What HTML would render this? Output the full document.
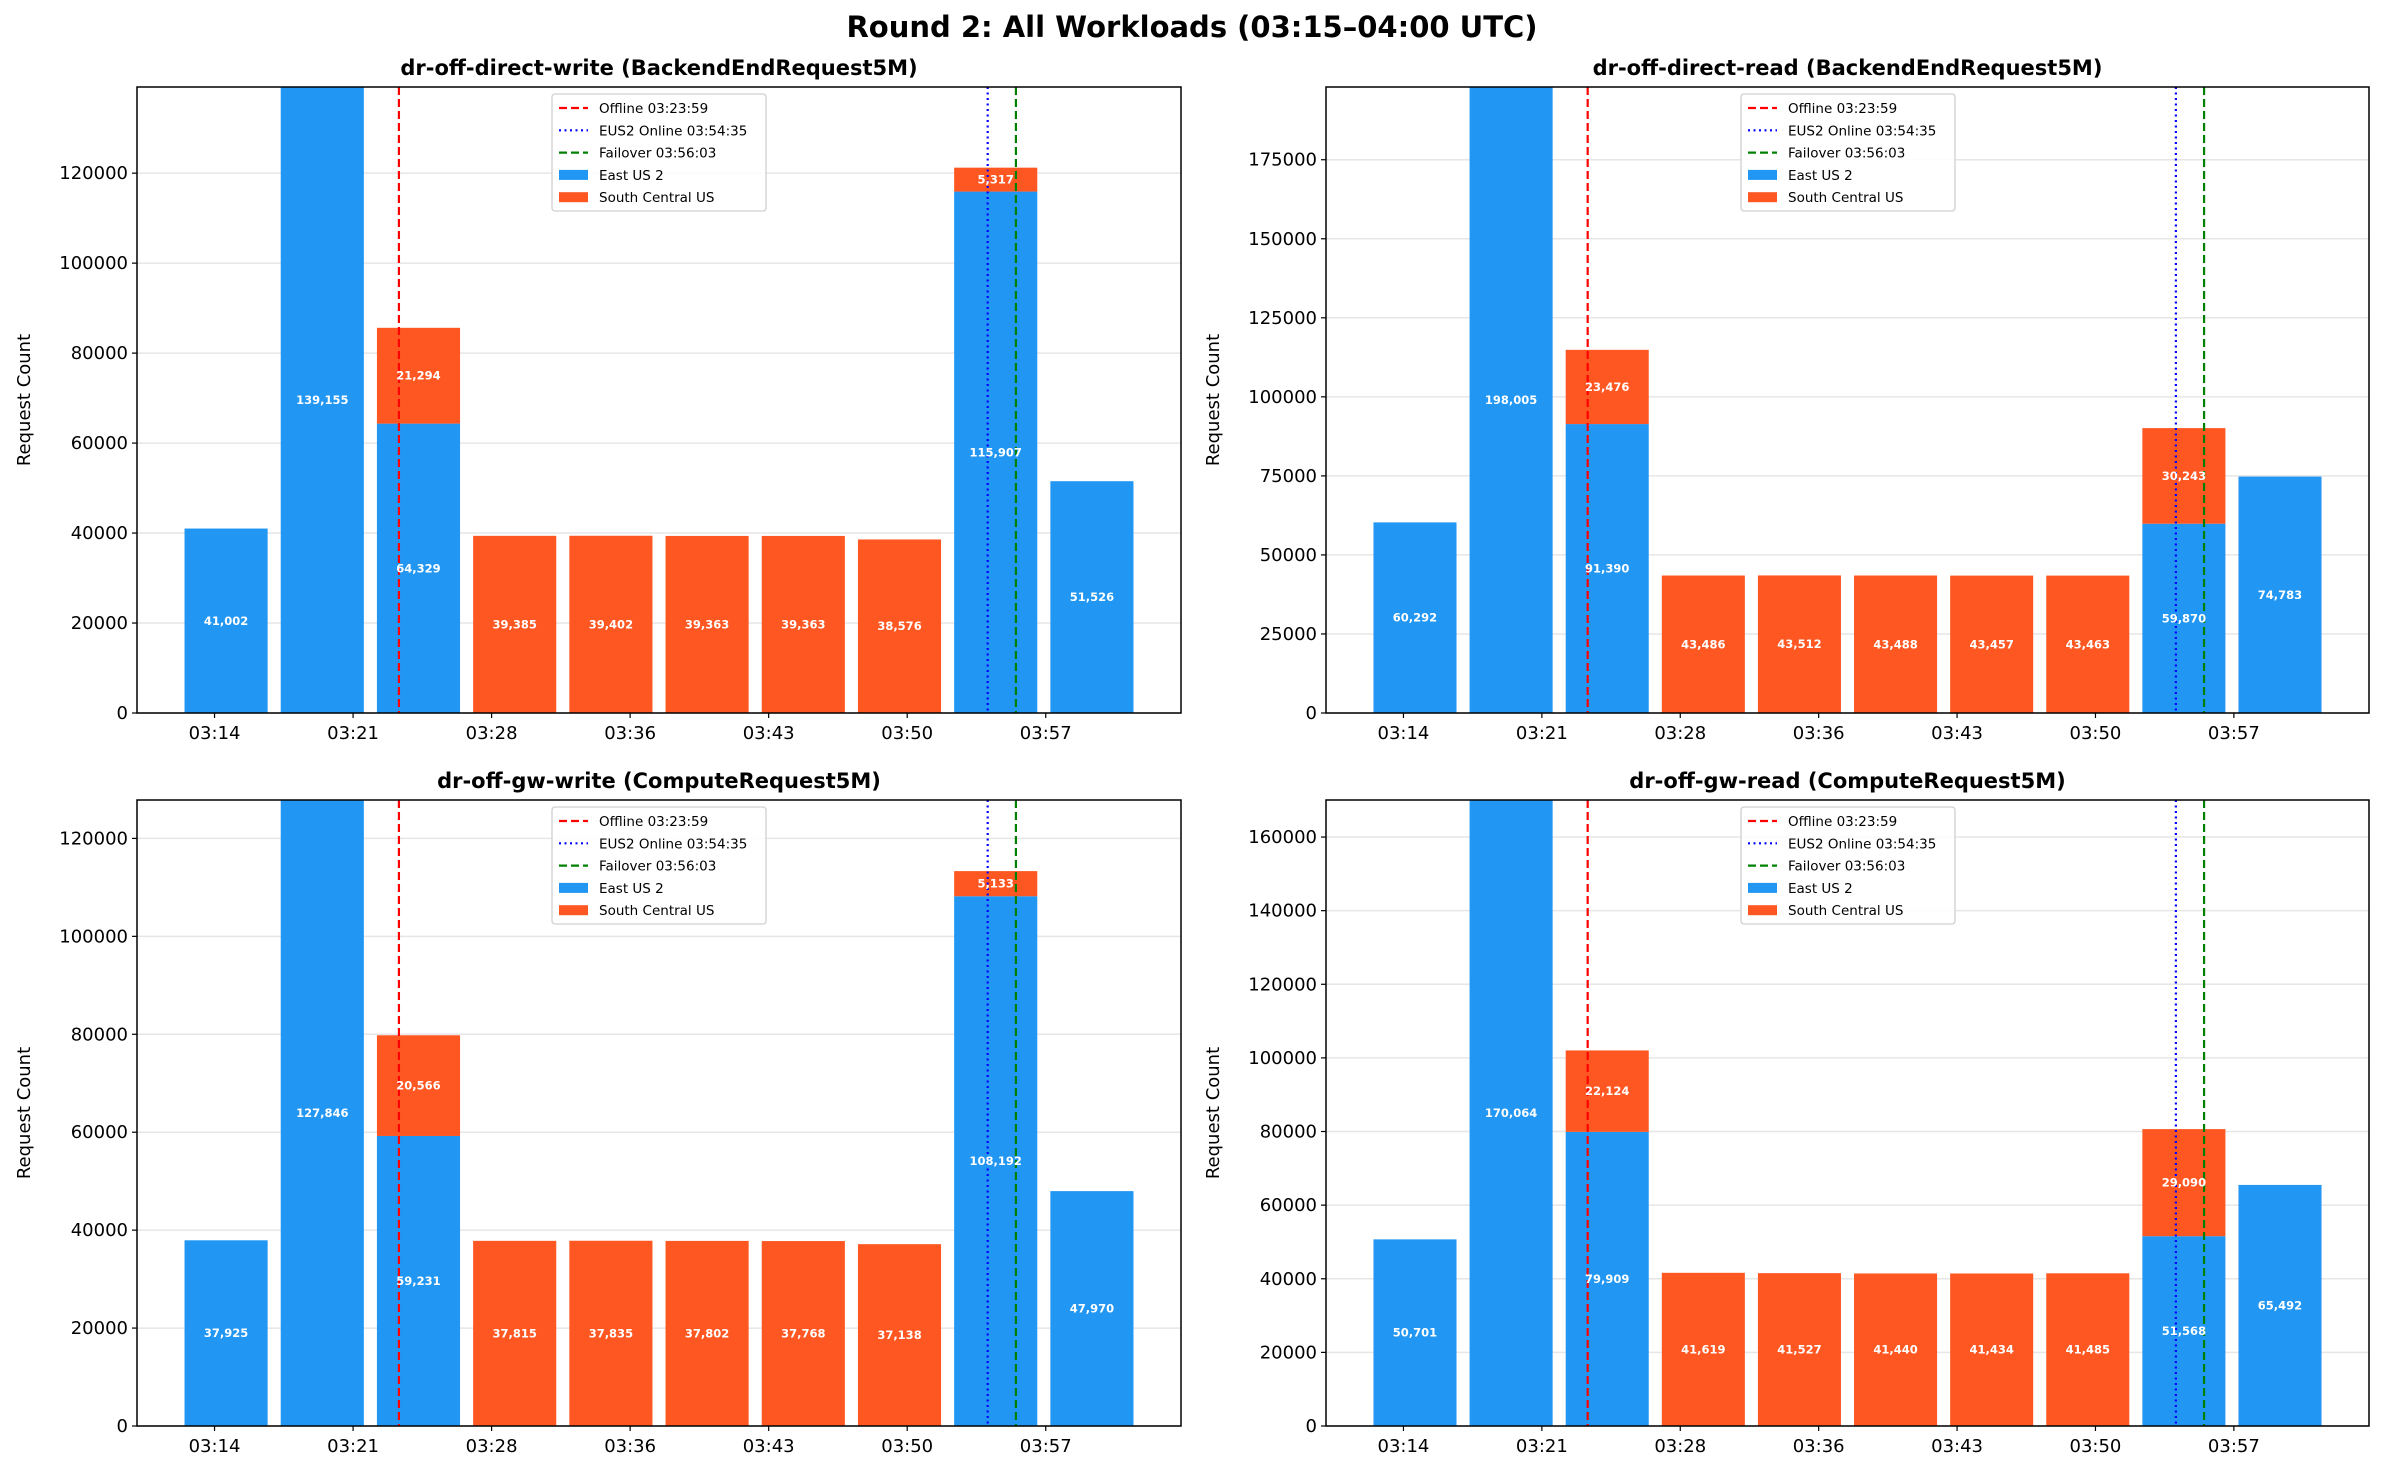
<!DOCTYPE html>
<html><head><meta charset="utf-8"><style>
html,body{margin:0;padding:0;background:#fff;}
svg{display:block;font-family:"DejaVu Sans","Liberation Sans",sans-serif;}
</style></head><body>
<svg id="fig" width="2384" height="1476" viewBox="0 0 2384 1476" xmlns="http://www.w3.org/2000/svg">
<rect width="2384" height="1476" fill="#fff"/>
<text x="1192" y="37" text-anchor="middle" font-size="29" font-weight="bold">Round 2: All Workloads (03:15–04:00 UTC)</text>
</svg>
<script>
// bar times (minutes after 03:00)
const barTimes = [15,20,25,30,35,40,45,50,55,60];
const tickTimes = [14.4,21.6,28.8,36,43.2,50.4,57.6];
const tickLabels = ["03:14","03:21","03:28","03:36","03:43","03:50","03:57"];
const eventTimes = [23.983,54.583,56.05];
const eventLabels = ["Offline 03:23:59","EUS2 Online 03:54:35","Failover 03:56:03"];

const dwTitle = "dr-off-direct-write (BackendEndRequest5M)";
const dwEast = [41002,139155,64329,0,0,0,0,0,115907,51526];
const dwSouth = [0,0,21294,39385,39402,39363,39363,38576,5317,0];
const dwTicks = [0,20000,40000,60000,80000,100000,120000];

const drTitle = "dr-off-direct-read (BackendEndRequest5M)";
const drEast = [60292,198005,91390,0,0,0,0,0,59870,74783];
const drSouth = [0,0,23476,43486,43512,43488,43457,43463,30243,0];
const drTicks = [0,25000,50000,75000,100000,125000,150000,175000];

const gwTitle = "dr-off-gw-write (ComputeRequest5M)";
const gwEast = [37925,127846,59231,0,0,0,0,0,108192,47970];
const gwSouth = [0,0,20566,37815,37835,37802,37768,37138,5133,0];
const gwTicks = [0,20000,40000,60000,80000,100000,120000];

const grTitle = "dr-off-gw-read (ComputeRequest5M)";
const grEast = [50701,170064,79909,0,0,0,0,0,51568,65492];
const grSouth = [0,0,22124,41619,41527,41440,41434,41485,29090,0];
const grTicks = [0,20000,40000,60000,80000,100000,120000,140000,160000];

const NS="http://www.w3.org/2000/svg";
const svg=document.getElementById('fig');
function mk(tag,attrs,parent){const e=document.createElementNS(NS,tag);for(const k in attrs)e.setAttribute(k,attrs[k]);(parent||svg).appendChild(e);return e;}
const BLUE="#2196F3",ORANGE="#FF5722";
const fmt=v=>v.toLocaleString('en-US');

function panel(L,T,R,B,title,east,south,yticks,slug){
  const g=mk('g',{});
  
  
  const x0=10.37,x1=64.63;
  const totals=east.map((e,i)=>e+south[i]);
  const ymax=Math.max(...totals);
  const X=t=>L+(t-x0)/(x1-x0)*(R-L);
  const Y=v=>B-v/ymax*(B-T);
  yticks.forEach(v=>{const l=mk('line',{x1:L,x2:R,y1:Y(v),y2:Y(v),stroke:'#e6e6e6','stroke-width':1.5},g);
    });
  const bw=4.32;
  barTimes.forEach((t,i)=>{
    const xl=X(t-bw/2),w=X(t+bw/2)-xl;
    if(east[i]>0){const r=mk('rect',{x:xl,y:Y(east[i]),width:w,height:B-Y(east[i]),fill:BLUE},g);
      }
    if(south[i]>0){const r=mk('rect',{x:xl,y:Y(east[i]+south[i]),width:w,height:Y(east[i])-Y(east[i]+south[i]),fill:ORANGE},g);
      }
  });
  const ecol=['#ff0000','#0000ff','#008000'],edash=['8,4','2,3.5','8,4'];
  eventTimes.forEach((t,i)=>{const l=mk('line',{x1:X(t),x2:X(t),y1:T,y2:B,stroke:ecol[i],'stroke-width':2.2,'stroke-dasharray':edash[i]},g);
    });
  barTimes.forEach((t,i)=>{
    if(east[i]>0){const tx=mk('text',{x:X(t),y:Y(east[i]/2)+4,'text-anchor':'middle','font-size':11.5,'font-weight':'bold',fill:'#fff'},g);tx.textContent=fmt(east[i]);
      }
    if(south[i]>0){const tx=mk('text',{x:X(t),y:Y(east[i]+south[i]/2)+4,'text-anchor':'middle','font-size':11.5,'font-weight':'bold',fill:'#fff'},g);tx.textContent=fmt(south[i]);
      }
  });
  const fr=mk('rect',{x:L,y:T,width:R-L,height:B-T,fill:'none',stroke:'#000','stroke-width':1.5},g);
  
  yticks.forEach(v=>{mk('line',{x1:L-5,x2:L,y1:Y(v),y2:Y(v),stroke:'#000','stroke-width':1.2},g);
    const tx=mk('text',{x:L-9,y:Y(v)+6,'text-anchor':'end','font-size':18},g);tx.textContent=v;
    });
  tickTimes.forEach((t,i)=>{mk('line',{x1:X(t),x2:X(t),y1:B,y2:B+5,stroke:'#000','stroke-width':1.2},g);
    const tx=mk('text',{x:X(t),y:B+26,'text-anchor':'middle','font-size':18},g);tx.textContent=tickLabels[i];
    });
  const yl=mk('text',{x:0,y:0,'text-anchor':'middle','font-size':18,transform:`translate(${L-107},${(T+B)/2}) rotate(-90)`},g);
  yl.textContent='Request Count';
  const tt=mk('text',{x:(L+R)/2,y:T-12,'text-anchor':'middle','font-size':21,'font-weight':'bold'},g);
  tt.textContent=title;
  const lg=mk('g',{},g);
  const lx=L+415,ly=T+7;
  mk('rect',{x:lx,y:ly,width:214,height:117,rx:3,fill:'#fff','fill-opacity':0.85,stroke:'#d0d0d0','stroke-width':1.3},lg);
  const rows=[...eventLabels,'East US 2','South Central US'];
  rows.forEach((s,i)=>{const cy=ly+14+i*22.3;
    if(i<3){mk('line',{x1:lx+7,x2:lx+36,y1:cy,y2:cy,stroke:ecol[i],'stroke-width':2.2,'stroke-dasharray':edash[i]},lg);}
    else{mk('rect',{x:lx+7,y:cy-5,width:29,height:10,fill:i===3?BLUE:ORANGE},lg);}
    const tx=mk('text',{x:lx+47,y:cy+5,'font-size':13.5},lg);tx.textContent=s;
    
  });
}
panel(137,87,1181,713,dwTitle,dwEast,dwSouth,dwTicks,'direct-write');
panel(1326,87,2369,713,drTitle,drEast,drSouth,drTicks,'direct-read');
panel(137,800,1181,1426,gwTitle,gwEast,gwSouth,gwTicks,'gw-write');
panel(1326,800,2369,1426,grTitle,grEast,grSouth,grTicks,'gw-read');
</script>
</body></html>
